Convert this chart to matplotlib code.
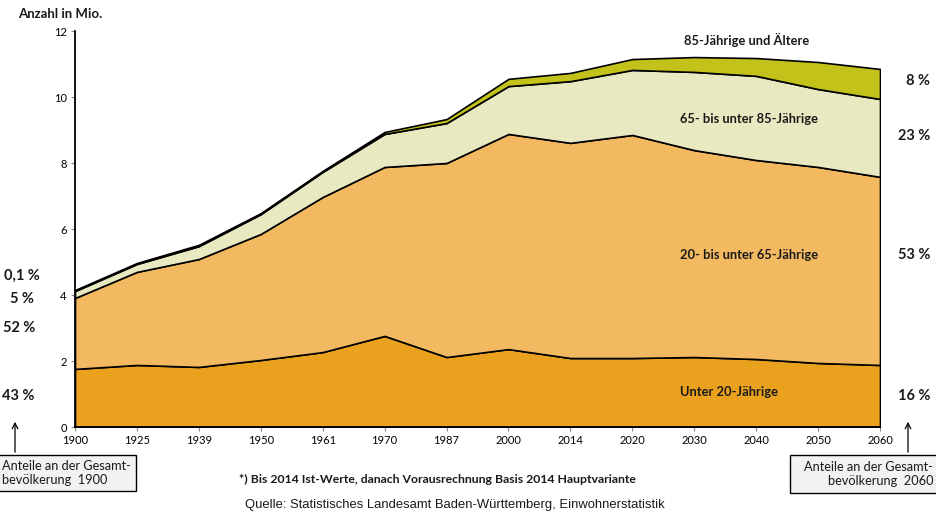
import matplotlib

matplotlib.use('Agg')
import matplotlib.pyplot as plt
from matplotlib.patches import Rectangle, FancyArrowPatch

plt.rcParams['font.family'] = ['Lato', 'DejaVu Sans']

years = ['1900', '1925', '1939', '1950', '1961', '1970', '1987', '2000',
         '2014', '2020', '2030', '2040', '2050', '2060']
# Mio. Einwohner je Altersgruppe
unter20 = [1.76, 1.88, 1.82, 2.03, 2.27, 2.76, 2.12, 2.36, 2.09, 2.09, 2.12, 2.06, 1.94, 1.88]
von20bis65 = [2.15, 2.82, 3.27, 3.82, 4.70, 5.12, 5.88, 6.52, 6.52, 6.76, 6.27, 6.03, 5.94, 5.70]
von65bis85 = [0.21, 0.24, 0.39, 0.60, 0.76, 1.00, 1.21, 1.45, 1.87, 1.97, 2.37, 2.55, 2.36, 2.36]
ab85 = [0.03, 0.03, 0.04, 0.03, 0.03, 0.06, 0.12, 0.22, 0.25, 0.33, 0.45, 0.54, 0.82, 0.91]

groups = [unter20, von20bis65, von65bis85, ab85]
colors = ['#E9A11E', '#F3B961', '#E9E9C1', '#C3C21B']

share_1900 = ['43 %', '52 %', '5 %', '0,1 %']
share_2060 = ['16 %', '53 %', '23 %', '8 %']

W, H = 936, 513


def px(x, y):
    return x / W, 1 - y / H


fig = plt.figure(figsize=(W / 100, H / 100), dpi=100)
ax = fig.add_axes([75 / W, 1 - 427 / H, (880 - 75) / W, (427 - 31) / H])

x = list(range(len(years)))
base = [0.0] * len(years)
for vals, col in zip(groups, colors):
    top = [b + v for b, v in zip(base, vals)]
    ax.fill_between(x, base, top, facecolor=col, edgecolor='black', linewidth=1.2, zorder=2)
    base = top

ax.set_xlim(0, len(years) - 1)
ax.set_ylim(0, 12)
ax.set_yticks(range(0, 13, 2))
ax.set_xticks(x)
ax.set_xticklabels(years)
for s in ['top', 'right']:
    ax.spines[s].set_visible(False)
for s in ['left', 'bottom']:
    ax.spines[s].set_linewidth(1.3)
    ax.spines[s].set_zorder(3)
ax.tick_params(axis='both', labelsize=8, length=3, width=0.8, color='#888888', pad=3)

bold = dict(fontweight='bold', color='#1a1a1a')
fig.text(*px(18, 14), 'Anzahl in Mio.', fontsize=9.5, va='center', ha='left', **bold)

# group labels inside the chart
fig.text(*px(747, 40), '85-Jährige und Ältere', fontsize=9.3, ha='center', va='center', **bold)
fig.text(*px(749, 119), '65- bis unter 85-Jährige', fontsize=9.3, ha='center', va='center', **bold)
fig.text(*px(749, 255), '20- bis unter 65-Jährige', fontsize=9.3, ha='center', va='center', **bold)
fig.text(*px(729, 392), 'Unter 20-Jährige', fontsize=9.3, ha='center', va='center', **bold)

# shares on the right (2060)
for lab, yy in zip(share_2060, [396, 255, 136, 81]):
    fig.text(*px(930, yy), lab, fontsize=10.5, ha='right', va='center', **bold)
# shares on the left (1900)
for lab, xx, yy in zip(share_1900, [35, 35, 34, 40], [396, 328, 299, 276]):
    fig.text(*px(xx, yy), lab, fontsize=10.5, ha='right', va='center', **bold)

# boxes with arrows
for bx, bw, bh, tx, ha, txt, axx in [
    (-10, 146, 36, 2, 'left', 'Anteile an der Gesamt-\nbevölkerung  1900', 15),
    (790, 160, 38, 933, 'right', 'Anteile an der Gesamt-\nbevölkerung  2060', 908),
]:
    x0, y0 = px(bx, 455 + bh)
    fig.patches.append(Rectangle((x0, y0), bw / W, bh / H, transform=fig.transFigure,
                                 facecolor='#F2F2F2', edgecolor='black', linewidth=1.0))
    fig.text(*px(tx, 455 + bh / 2), txt, fontsize=9.2, ha=ha, va='center',
             multialignment=ha, color='#1a1a1a', linespacing=1.15)
    fig.patches.append(FancyArrowPatch(px(axx, 455), px(axx, 419), transform=fig.transFigure,
                                       arrowstyle='->', mutation_scale=10, linewidth=0.9,
                                       color='black'))

fig.text(*px(437, 479), '*) Bis 2014 Ist-Werte, danach Vorausrechnung Basis 2014 Hauptvariante',
         fontsize=8.8, ha='center', va='center', **bold)
fig.text(*px(455, 505), 'Quelle: Statistisches Landesamt Baden-Württemberg, Einwohnerstatistik',
         fontsize=9.4, ha='center', va='center', family='Liberation Sans', color='#1a1a1a')

fig.savefig('out.png', dpi=100)
